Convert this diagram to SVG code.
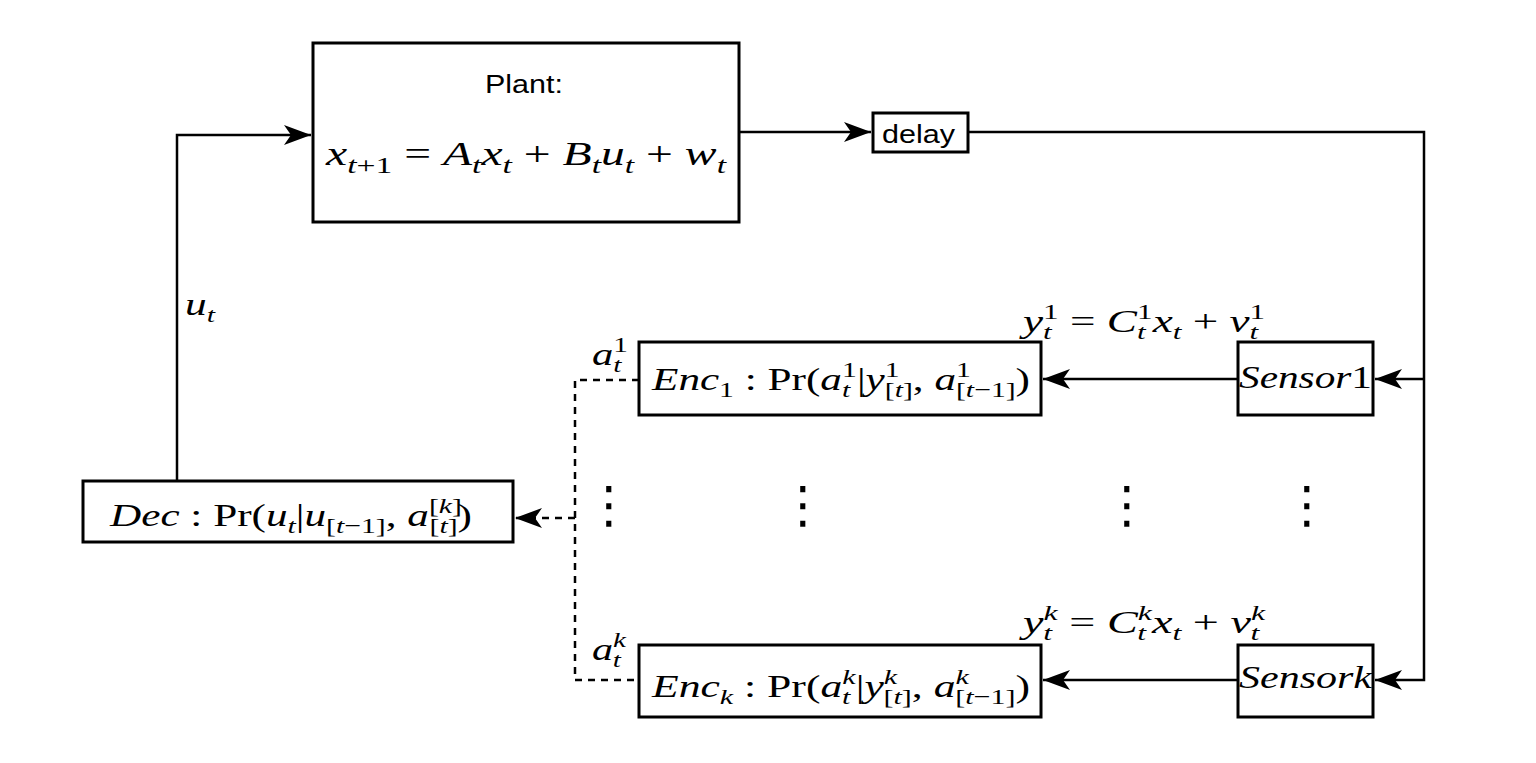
<svg xmlns="http://www.w3.org/2000/svg" width="1536" height="763" viewBox="0 0 1536 763">
<defs>
<style>
.box{fill:#fff;stroke:#000;stroke-width:3}
.ln{fill:none;stroke:#000;stroke-width:2.5}
.dash{stroke-dasharray:7 6}
.sans{font-family:"Liberation Sans",Arial,sans-serif;font-size:25px;fill:#000}
.m{font-family:"Liberation Serif","Times New Roman",serif;font-size:32px;fill:#000}
.m .s{font-size:22px}
.eq{font-size:34px}
.eq .s{font-size:24px}
.i{font-style:italic}
.dots{font-family:"DejaVu Sans",sans-serif;font-size:50px;fill:#000;text-anchor:middle}
</style>
<marker id="arr" markerUnits="userSpaceOnUse" markerWidth="28" markerHeight="22" viewBox="0 0 28 22" refX="27" refY="11" orient="auto">
<path d="M0,1 L27,11 L0,21 L7,11 Z" fill="#000"/>
</marker>
</defs>
<rect width="1536" height="763" fill="#fff"/>
<g id="connectors">
<path class="ln" d="M177,481 V135 H311" marker-end="url(#arr)"/>
<path class="ln" d="M739,132 H871" marker-end="url(#arr)"/>
<path class="ln" d="M968,132 H1424 V680 H1375" marker-end="url(#arr)"/>
<path class="ln" d="M1424,379 H1375" marker-end="url(#arr)"/>
<path class="ln" d="M1238,379 H1043" marker-end="url(#arr)"/>
<path class="ln" d="M1238,680 H1043" marker-end="url(#arr)"/>
<path class="ln dash" d="M639,380 H575 V680 H639"/>
<path class="ln dash" d="M575,518 H515" marker-end="url(#arr)"/>
</g>
<g id="plant">
<rect class="box" x="313" y="43" width="426" height="179"/>
<text class="sans" x="485" y="93" textLength="78" lengthAdjust="spacingAndGlyphs">Plant:</text>
<text class="m eq" x="326" y="165" textLength="400" lengthAdjust="spacingAndGlyphs"><tspan class="i">x</tspan><tspan class="s" dy="8"><tspan class="i">t</tspan>+1</tspan><tspan dy="-8"> = </tspan><tspan class="i">A</tspan><tspan class="s i" dy="8">t</tspan><tspan class="i" dy="-8">x</tspan><tspan class="s i" dy="8">t</tspan><tspan dy="-8"> + </tspan><tspan class="i">B</tspan><tspan class="s i" dy="8">t</tspan><tspan class="i" dy="-8">u</tspan><tspan class="s i" dy="8">t</tspan><tspan dy="-8"> + </tspan><tspan class="i">w</tspan><tspan class="s i" dy="8">t</tspan></text>
</g>
<g id="delay">
<rect class="box" x="873" y="113" width="95" height="39"/>
<text class="sans" x="882" y="143" textLength="73" lengthAdjust="spacingAndGlyphs">delay</text>
</g>
<g id="sensor1">
<rect class="box" x="1238" y="342" width="135" height="73"/>
<text class="m" x="1239" y="388" textLength="133" lengthAdjust="spacingAndGlyphs"><tspan class="i">Sensor</tspan>1</text>
</g>
<g id="sensork">
<rect class="box" x="1238" y="645" width="135" height="72"/>
<text class="m" x="1239" y="688" textLength="133" lengthAdjust="spacingAndGlyphs"><tspan class="i">Sensork</tspan></text>
</g>
<g id="enc1">
<rect class="box" x="639" y="342" width="402" height="73"/>
<text class="m" x="652" y="390" textLength="378" lengthAdjust="spacingAndGlyphs"><tspan class="i">Enc</tspan><tspan class="s" dy="7">1</tspan><tspan dy="-7"> : Pr(</tspan><tspan class="i">a</tspan><tspan class="s" dy="-13">1</tspan><tspan class="s i" dx="-11" dy="20">t</tspan><tspan dx="5" dy="-7">|</tspan><tspan class="i">y</tspan><tspan class="s" dy="-13">1</tspan><tspan class="s" dx="-11" dy="20">[<tspan class="i">t</tspan>]</tspan><tspan dy="-7">, </tspan><tspan class="i">a</tspan><tspan class="s" dy="-13">1</tspan><tspan class="s" dx="-11" dy="20">[<tspan class="i">t</tspan>−1]</tspan><tspan dy="-7">)</tspan></text>
</g>
<g id="enck">
<rect class="box" x="639" y="645" width="402" height="72"/>
<text class="m" x="652" y="697" textLength="378" lengthAdjust="spacingAndGlyphs"><tspan class="i">Enc</tspan><tspan class="s i" dy="7">k</tspan><tspan dy="-7"> : Pr(</tspan><tspan class="i">a</tspan><tspan class="s i" dy="-13">k</tspan><tspan class="s i" dx="-10" dy="20">t</tspan><tspan dx="4" dy="-7">|</tspan><tspan class="i">y</tspan><tspan class="s i" dy="-13">k</tspan><tspan class="s" dx="-10" dy="20">[<tspan class="i">t</tspan>]</tspan><tspan dy="-7">, </tspan><tspan class="i">a</tspan><tspan class="s i" dy="-13">k</tspan><tspan class="s" dx="-10" dy="20">[<tspan class="i">t</tspan>−1]</tspan><tspan dy="-7">)</tspan></text>
</g>
<g id="dec">
<rect class="box" x="83" y="481" width="430" height="61"/>
<text class="m" x="110" y="526" textLength="362" lengthAdjust="spacingAndGlyphs"><tspan class="i">Dec</tspan> : Pr(<tspan class="i">u</tspan><tspan class="s i" dy="7">t</tspan><tspan dy="-7">|</tspan><tspan class="i">u</tspan><tspan class="s" dy="7">[<tspan class="i">t</tspan>−1]</tspan><tspan dy="-7">, </tspan><tspan class="i">a</tspan><tspan class="s" dy="-13">[<tspan class="i">k</tspan>]</tspan><tspan class="s" dx="-24" dy="20">[<tspan class="i">t</tspan>]</tspan><tspan dy="-7">)</tspan></text>
</g>
<g id="labels">
<text class="m" x="185" y="315" textLength="30" lengthAdjust="spacingAndGlyphs"><tspan class="i">u</tspan><tspan class="s i" dy="7">t</tspan></text>
<text class="m" x="592" y="365" textLength="36" lengthAdjust="spacingAndGlyphs"><tspan class="i">a</tspan><tspan class="s" dy="-13">1</tspan><tspan class="s i" dx="-11" dy="20">t</tspan></text>
<text class="m" x="592" y="660" textLength="34" lengthAdjust="spacingAndGlyphs"><tspan class="i">a</tspan><tspan class="s i" dy="-13">k</tspan><tspan class="s i" dx="-10" dy="20">t</tspan></text>
<text class="m" x="1023" y="332" textLength="242" lengthAdjust="spacingAndGlyphs"><tspan class="i">y</tspan><tspan class="s" dy="-13">1</tspan><tspan class="s i" dx="-11" dy="20">t</tspan><tspan dx="5" dy="-7"> = </tspan><tspan class="i">C</tspan><tspan class="s" dy="-13">1</tspan><tspan class="s i" dx="-11" dy="20">t</tspan><tspan class="i" dx="5" dy="-7">x</tspan><tspan class="s i" dy="7">t</tspan><tspan dy="-7"> + </tspan><tspan class="i">v</tspan><tspan class="s" dy="-13">1</tspan><tspan class="s i" dx="-11" dy="20">t</tspan></text>
<text class="m" x="1023" y="633" textLength="242" lengthAdjust="spacingAndGlyphs"><tspan class="i">y</tspan><tspan class="s i" dy="-13">k</tspan><tspan class="s i" dx="-10" dy="20">t</tspan><tspan dx="4" dy="-7"> = </tspan><tspan class="i">C</tspan><tspan class="s i" dy="-13">k</tspan><tspan class="s i" dx="-10" dy="20">t</tspan><tspan class="i" dx="4" dy="-7">x</tspan><tspan class="s i" dy="7">t</tspan><tspan dy="-7"> + </tspan><tspan class="i">v</tspan><tspan class="s i" dy="-13">k</tspan><tspan class="s i" dx="-10" dy="20">t</tspan></text>
<text class="dots" x="609" y="522">⋮</text>
<text class="dots" x="803" y="522">⋮</text>
<text class="dots" x="1127" y="522">⋮</text>
<text class="dots" x="1307" y="522">⋮</text>
</g>
</svg>
